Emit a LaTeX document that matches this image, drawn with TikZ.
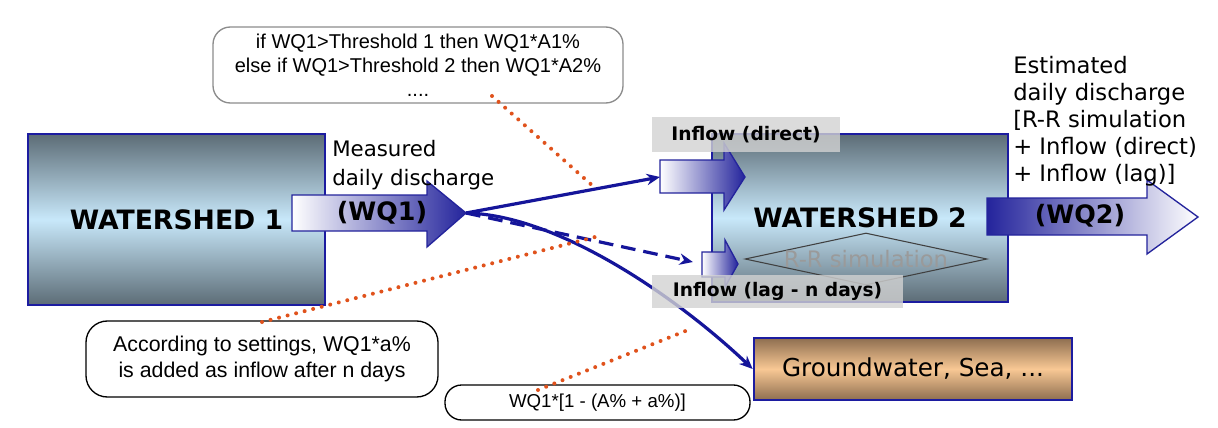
\documentclass[tikz,border=0pt]{standalone}
\usepackage{fontspec}
\setmainfont{DejaVu Sans}
\newfontfamily\arialf{Liberation Sans}
\usetikzlibrary{shapes.geometric,arrows.meta}
\definecolor{wsdark}{HTML}{5C6C76}
\definecolor{wslight}{HTML}{C8E8FA}
\definecolor{gwdark}{HTML}{8E6E50}
\definecolor{gwlight}{HTML}{F8C894}
\definecolor{boxblue}{HTML}{1C1CA0}
\definecolor{arrblue}{HTML}{24249C}
\definecolor{lineblue}{HTML}{15159A}
\definecolor{dotorange}{HTML}{E0521C}
\definecolor{labelgray}{HTML}{D2D2D2}
\definecolor{rrgray}{HTML}{9A9A9A}
\tikzset{
  wsbox/.style={draw=boxblue,line width=2pt,top color=wsdark,bottom color=wsdark,middle color=wslight,inner sep=0pt,
    font=\fontsize{20pt}{23pt}\selectfont\bfseries},
  gwbox/.style={draw=boxblue,line width=2pt,top color=gwdark,bottom color=gwdark,middle color=gwlight,inner sep=0pt,
    font=\fontsize{18.5pt}{22pt}\selectfont},
  fatarrow/.style={draw=arrblue,line width=1pt,line join=miter},
  arrowtext/.style={font=\fontsize{19pt}{22pt}\selectfont\bfseries,inner sep=0pt},
  flow/.style={draw=lineblue,line width=2.4pt,-{Stealth[length=10pt,width=8.5pt]}},
  dashflow/.style={flow,dash pattern=on 11pt off 6pt},
  dotline/.style={draw=dotorange,line width=3pt,line cap=round,dash pattern=on 0pt off 6.6pt},
  graylabel/.style={fill=labelgray,fill opacity=0.8,text opacity=1,inner sep=0pt,
    font=\fontsize{14pt}{16pt}\selectfont\bfseries},
  callout/.style={line width=1pt,align=center,inner sep=0pt,font=\arialf\fontsize{15pt}{18pt}\selectfont},
  sidetext/.style={anchor=north west,align=left,inner sep=0pt}
}
\begin{document}
\begin{tikzpicture}[x=0.75pt,y=-0.75pt]
\useasboundingbox (0,0) rectangle (1218,428);
\fill[white] (0,0) rectangle (1218,428);

% Watershed 1 and its outflow
\node[wsbox,minimum width=0.75pt*297,minimum height=0.75pt*171] (ws1) at (176.5,219.5) {WATERSHED 1};
\path[fatarrow,left color=white,right color=arrblue]
  (292,195) -- (427,195) -- (427,181) -- (466,213) -- (427,247) -- (427,231) -- (292,231) -- cycle;
\coordinate (tip1) at (466,213);
\node[arrowtext] (wq1) at (382,213) {(WQ1)};
\node[sidetext,font=\fontsize{16pt}{21.75pt}\selectfont] (meas) at (332,140) {Measured\\daily discharge};

% Watershed 2
\node[wsbox,minimum width=0.75pt*296,minimum height=0.75pt*168] (ws2) at (860,218) {WATERSHED 2};
\node[diamond,draw=black!75,line width=0.8pt,minimum width=0.75pt*242,minimum height=0.75pt*52,inner sep=0pt,
  label={[text=rrgray,font=\fontsize{17pt}{20pt}\selectfont]center:R-R simulation}] (rr) at (866,259) {};

% inflow arrows
\path[fatarrow,left color=white,right color=arrblue]
  (660,160) -- (724,160) -- (724,143) -- (745,177) -- (724,210) -- (724,193) -- (660,193) -- cycle;
\coordinate (inD) at (660,177);
\path[fatarrow,left color=white,right color=arrblue]
  (702,252) -- (725,252) -- (725,240) -- (738,264) -- (725,287) -- (725,277) -- (702,277) -- cycle;
\coordinate (inL) at (702,264);

% WQ2 outflow
\path[fatarrow,left color=arrblue,right color=white]
  (987,198) -- (1147,198) -- (1147,180) -- (1198,217) -- (1147,254) -- (1147,235) -- (987,235) -- cycle;
\node[arrowtext] (wq2) at (1080,216) {(WQ2)};

% Groundwater
\node[gwbox,minimum width=0.75pt*318,minimum height=0.75pt*62] (gw) at (913,369) {Groundwater, Sea, ...};

% flows
\draw[flow] (tip1) -- (inD);
\draw[dashflow,shorten >=7pt] (tip1) -- (inL);
\draw[flow] (tip1) .. controls (560,215) and (680,300) .. (gw.west);

% gray labels
\node[graylabel,minimum width=0.75pt*188,minimum height=0.75pt*35] (lblD) at (746,134.5) {Inflow (direct)};
\node[graylabel,minimum width=0.75pt*251,minimum height=0.75pt*33] (lblL) at (777.5,291.5) {Inflow (lag - n days)};

% estimated text
\node[sidetext,font=\fontsize{17pt}{20.25pt}\selectfont] (est) at (1013,56)
  {Estimated\\daily discharge\\{[}R-R simulation\\+ Inflow (direct)\\+ Inflow (lag)]};

% callouts
\node[callout,draw=black!45,rounded corners=13pt,minimum width=0.75pt*410,minimum height=0.75pt*76] (c1) at (418,65)
  {if WQ1>Threshold 1 then WQ1*A1\%\\else if WQ1>Threshold 2 then WQ1*A2\%\\....};
\node[callout,draw=black,rounded corners=16pt,minimum width=0.75pt*352,minimum height=0.75pt*76,
  font=\arialf\fontsize{16pt}{19pt}\selectfont] (c2) at (262,359)
  {According to settings, WQ1*a\%\\is added as inflow after n days};
\node[callout,draw=black,rounded corners=12.5pt,minimum width=0.75pt*305,minimum height=0.75pt*35,
  font=\arialf\fontsize{14pt}{17pt}\selectfont] (c3) at (597.5,402.5) {WQ1*[1 - (A\% + a\%)]};

% dotted pointers
\coordinate (d1s) at (492,96);  \coordinate (d1e) at (594,187);
\coordinate (d2s) at (262,322); \coordinate (d2e) at (603,235);
\coordinate (d3s) at (538,390); \coordinate (d3e) at (693,328);
\draw[dotline] (d1s) -- (d1e);
\draw[dotline] (d2s) -- (d2e);
\draw[dotline] (d3s) -- (d3e);
\end{tikzpicture}
\end{document}
